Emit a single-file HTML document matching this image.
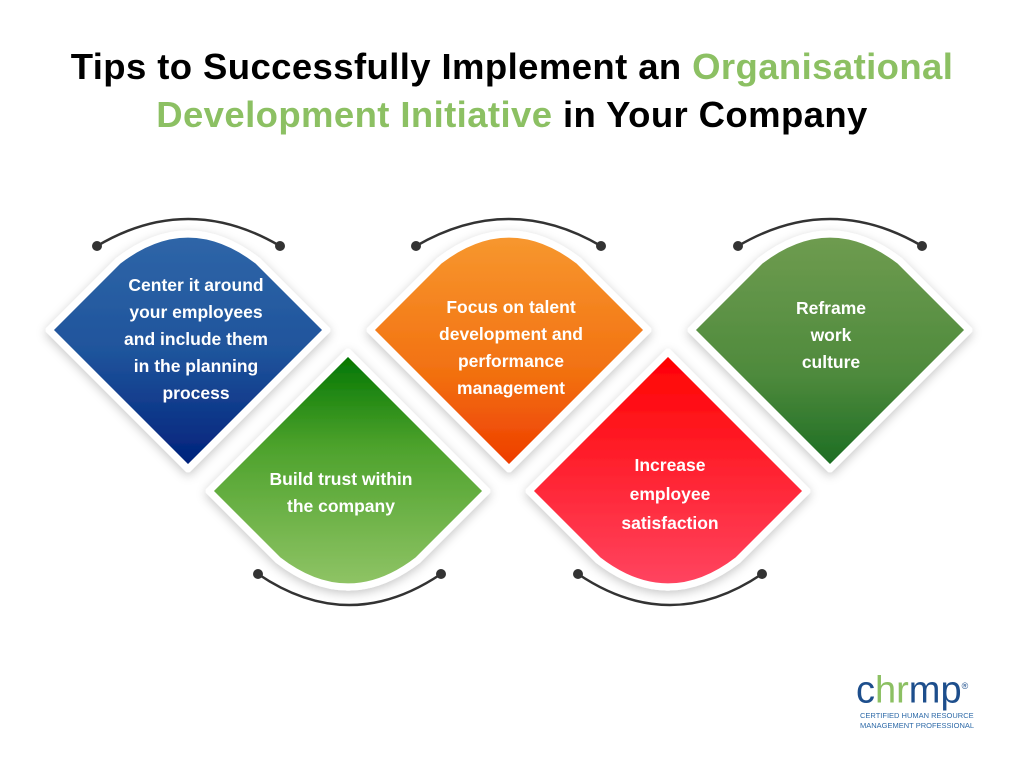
<!DOCTYPE html>
<html><head><meta charset="utf-8"><style>
body{margin:0;width:1024px;height:768px;background:#fff;overflow:hidden;position:relative;font-family:"Liberation Sans",sans-serif}
.t{position:absolute;left:0;width:1024px;text-align:center;font-weight:bold;font-size:36.5px;color:#000;letter-spacing:0.4px}
.g{color:#8cc063}
.l{position:absolute;color:#fff;font-weight:bold;font-size:17.5px;line-height:27px;text-align:center;width:220px}
</style></head><body>
<div class="t" style="top:46px">Tips to Successfully Implement an <span class="g">Organisational</span></div>
<div class="t" style="top:94px"><span class="g">Development Initiative</span> in Your Company</div>
<svg width="1024" height="768" style="position:absolute;left:0;top:0">
<defs>
<linearGradient id="b" x1="0" y1="0" x2="0" y2="1"><stop offset="0" stop-color="#2f66a8"/><stop offset="0.5" stop-color="#1f549c"/><stop offset="1" stop-color="#00207a"/></linearGradient>
<linearGradient id="o" x1="0" y1="0" x2="0" y2="1"><stop offset="0" stop-color="#f7982f"/><stop offset="0.6" stop-color="#f27010"/><stop offset="1" stop-color="#ee3a00"/></linearGradient>
<linearGradient id="gt" x1="0" y1="0" x2="0" y2="1"><stop offset="0" stop-color="#6f9c50"/><stop offset="0.6" stop-color="#4e8a3c"/><stop offset="1" stop-color="#1a6c22"/></linearGradient>
<linearGradient id="gb" x1="0" y1="0" x2="0" y2="1"><stop offset="0" stop-color="#007400"/><stop offset="0.4" stop-color="#4da22c"/><stop offset="1" stop-color="#90c466"/></linearGradient>
<linearGradient id="r" x1="0" y1="0" x2="0" y2="1"><stop offset="0" stop-color="#ff0000"/><stop offset="1" stop-color="#ff4561"/></linearGradient>
<filter id="s" x="-20%" y="-20%" width="140%" height="140%"><feDropShadow dx="0" dy="3" stdDeviation="5" flood-color="#000" flood-opacity="0.22"/></filter>
</defs>
<g stroke="#fff" stroke-width="7" stroke-linejoin="round" filter="url(#s)">
<path fill="url(#b)" d="M49,330 L118,261 Q188,207 258,261 L327,330 L188,469 Z"/>
<path fill="url(#o)" d="M370,330 L439,261 Q509,207 579,261 L648,330 L509,469 Z"/>
<path fill="url(#gt)" d="M691,330 L760,261 Q830,207 900,261 L969,330 L830,469 Z"/>
<path fill="url(#gb)" d="M348,352 L487,491 L418,560 Q348,614 278,560 L209,491 Z"/>
<path fill="url(#r)" d="M668,352 L807,491 L738,560 Q668,614 598,560 L529,491 Z"/>
</g>
<g fill="none" stroke="#333" stroke-width="2.5">
<path d="M97,246 Q188,192 280,246"/><path d="M416,246 Q509,192 601,246"/><path d="M738,246 Q830,192 922,246"/>
<path d="M258,574 Q349,636 441,574"/><path d="M578,574 Q670,636 762,574"/>
</g>
<g fill="#333">
<circle cx="97" cy="246" r="5"/><circle cx="280" cy="246" r="5"/><circle cx="416" cy="246" r="5"/><circle cx="601" cy="246" r="5"/><circle cx="738" cy="246" r="5"/><circle cx="922" cy="246" r="5"/>
<circle cx="258" cy="574" r="5"/><circle cx="441" cy="574" r="5"/><circle cx="578" cy="574" r="5"/><circle cx="762" cy="574" r="5"/>
</g>
</svg>
<div class="l" style="left:86px;top:272px">Center it around<br>your employees<br>and include them<br>in the planning<br>process</div>
<div class="l" style="left:231px;top:466px">Build trust within<br>the company</div>
<div class="l" style="left:401px;top:294px">Focus on talent<br>development and<br>performance<br>management</div>
<div class="l" style="left:560px;top:451px;line-height:29px">Increase<br>employee<br>satisfaction</div>
<div class="l" style="left:721px;top:295px">Reframe<br>work<br>culture</div>
<div style="position:absolute;left:856px;top:666px;font-size:38px;font-weight:normal;letter-spacing:0px;line-height:40px"><span style="color:#1d4e8c">c</span><span style="color:#8cc063">hr</span><span style="color:#1d4e8c">mp</span><sup style="font-size:9px;color:#1d4e8c">®</sup></div>
<div style="position:absolute;left:860px;top:711px;font-size:7.5px;line-height:10px;color:#2e6aa8">CERTIFIED HUMAN RESOURCE<br>MANAGEMENT PROFESSIONAL</div>
</body></html>
